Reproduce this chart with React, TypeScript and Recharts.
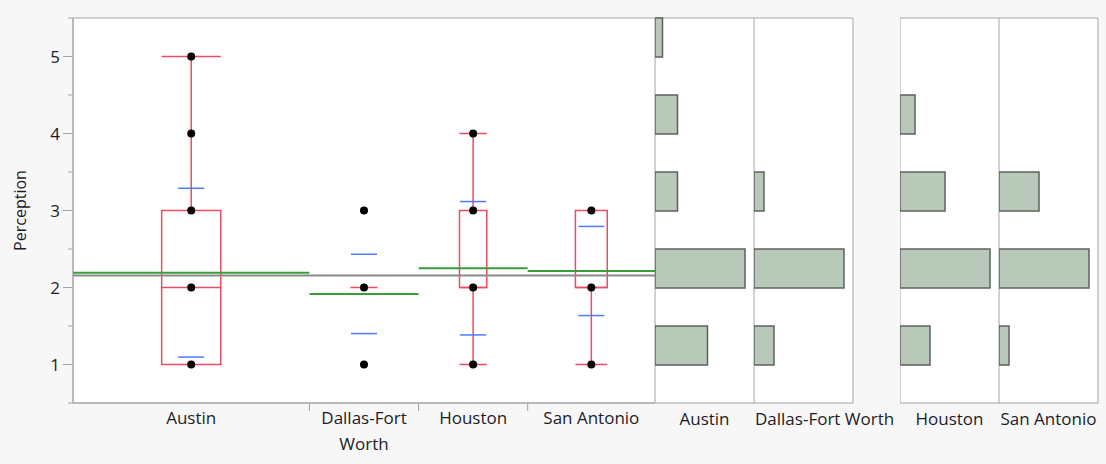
import React from 'react'
import {
  Bar,
  BarChart,
  CartesianGrid,
  ComposedChart,
  ReferenceArea,
  ReferenceLine,
  Scatter,
  Text,
  XAxis,
  YAxis,
} from 'recharts'

const regions = ['Austin', 'Dallas-Fort Worth', 'Houston', 'San Antonio']
const levels = [1, 2, 3, 4, 5]
// number of responses at each level 1..5
const austinCounts = [7, 12, 3, 3, 1]
const dallasCounts = [2, 9, 1, 0, 0]
const houstonCounts = [2, 6, 3, 1, 0]
const sanAntonioCounts = [1, 9, 4, 0, 0]
const countsByRegion = [austinCounts, dallasCounts, houstonCounts, sanAntonioCounts]
const yTicks = [0.5, 1, 1.5, 2, 2.5, 3, 3.5, 4, 4.5, 5, 5.5]

const FONT = '"Open Sans", sans-serif'
const TEXT = '#1c1c28'
const AXIS = '#a4a4a4'
const RED = '#ee4b63'
const BLUE = '#4b7bff'
const GREEN = '#3a9d3a'
const GRAY = '#8a8a8a'
const HIST_FILL = '#b9c9b9'
const HIST_STROKE = '#5d615d'
const SD_HALF = 1.43 // half length of the std dev marks, x units

function expand(counts: number[]) {
  const out: number[] = []
  counts.forEach((c, i) => {
    for (let k = 0; k < c; k++) out.push(levels[i])
  })
  return out
}

function quantile(sorted: number[], p: number) {
  const pos = p * (sorted.length + 1)
  const lo = Math.min(Math.max(Math.floor(pos), 1), sorted.length)
  const hi = Math.min(Math.max(Math.ceil(pos), 1), sorted.length)
  const a = sorted[lo - 1]
  const b = sorted[hi - 1]
  return a + (b - a) * (pos - Math.floor(pos))
}

let cursor = 0
const groups = regions.map((name, i) => {
  const values = expand(countsByRegion[i])
  const n = values.length
  const mean = values.reduce((s, v) => s + v, 0) / n
  const sd = Math.sqrt(values.reduce((s, v) => s + (v - mean) ** 2, 0) / (n - 1))
  const q1 = quantile(values, 0.25)
  const med = quantile(values, 0.5)
  const q3 = quantile(values, 0.75)
  const iqr = q3 - q1
  const lo = Math.min(...values.filter((v) => v >= q1 - 1.5 * iqr))
  const hi = Math.max(...values.filter((v) => v <= q3 + 1.5 * iqr))
  const g = { name, start: cursor, end: cursor + n, center: cursor + n / 2, n, mean, sd, q1, med, q3, lo, hi, values }
  cursor += n
  return g
})
const total = cursor
const grandMean = groups.reduce((s, g) => s + g.mean * g.n, 0) / total

const boundaries = groups.slice(1).map((g) => g.start)
const xTicks = [...groups.map((g) => g.center), ...boundaries].sort((a, b) => a - b)

const points = groups.flatMap((g) =>
  Array.from(new Set(g.values)).map((v) => ({ x: g.center, y: v })),
)

function RegionTick(props: any) {
  const { x, y, payload } = props
  if (boundaries.includes(payload.value)) {
    return <line x1={x} x2={x} y1={y} y2={y + 8} stroke={AXIS} />
  }
  const g = groups.find((gr) => gr.center === payload.value)
  return (
    <Text
      x={x}
      y={y + 9}
      width={110}
      textAnchor="middle"
      verticalAnchor="start"
      lineHeight={26}
      fill={TEXT}
      style={{ fontFamily: FONT, fontSize: 17 }}
    >
      {g ? g.name : ''}
    </Text>
  )
}

function ValueTick(props: any) {
  const { x, y, payload } = props
  const major = Number.isInteger(payload.value)
  return (
    <g>
      <line x1={x - (major ? 10 : 5)} x2={x} y1={y} y2={y} stroke={AXIS} />
      {major && (
        <text x={x - 13} y={y} dy="0.36em" textAnchor="end" fill={TEXT} style={{ fontFamily: FONT, fontSize: 17 }}>
          {payload.value}
        </text>
      )}
    </g>
  )
}

function AxisTitle(props: any) {
  const vb = props.viewBox || { x: 0, y: 18, width: 73, height: 385 }
  const cx = vb.x + 20
  const cy = vb.y + vb.height / 2
  return (
    <text
      x={cx}
      y={cy}
      textAnchor="middle"
      dominantBaseline="central"
      transform={`rotate(-90 ${cx} ${cy})`}
      fill={TEXT}
      style={{ fontFamily: FONT, fontSize: 16 }}
    >
      Perception
    </text>
  )
}

function MainPlot() {
  return (
    <ComposedChart
      width={660}
      height={464}
      margin={{ top: 18, right: 5, bottom: 0, left: 0 }}
      style={{ position: 'absolute', left: 0, top: 0 }}
    >
      <CartesianGrid horizontal={false} vertical={false} fill="#ffffff" />
      <XAxis
        type="number"
        dataKey="x"
        domain={[0, total]}
        ticks={xTicks}
        interval={0}
        height={61}
        tickLine={false}
        tickSize={0}
        tickMargin={0}
        axisLine={{ stroke: AXIS }}
        tick={(p: any) => <RegionTick {...p} />}
        allowDataOverflow
      />
      <YAxis
        type="number"
        dataKey="y"
        domain={[0.5, 5.5]}
        ticks={yTicks}
        interval={0}
        width={73}
        tickLine={false}
        tickSize={0}
        tickMargin={0}
        axisLine={{ stroke: AXIS }}
        tick={(p: any) => <ValueTick {...p} />}
        label={(p: any) => <AxisTitle {...p} />}
        allowDataOverflow
      />
      <ReferenceArea x1={0} x2={total} y1={0.5} y2={5.5} fill="none" stroke={AXIS} ifOverflow="visible" />
      <ReferenceLine y={grandMean} stroke={GRAY} strokeWidth={2} />
      {groups.map((g) => (
        <ReferenceLine
          key={`mean-${g.name}`}
          segment={[{ x: g.start, y: g.mean }, { x: g.end, y: g.mean }]}
          stroke={GREEN}
          strokeWidth={2}
        />
      ))}
      {groups.map((g) => {
        const half = g.n / 8
        const parts: React.ReactNode[] = []
        if (g.q3 > g.q1) {
          parts.push(
            <ReferenceArea key={`box-${g.name}`} x1={g.center - half} x2={g.center + half} y1={g.q1} y2={g.q3} fill="none" stroke={RED} strokeWidth={1.5} />,
          )
        }
        parts.push(
          <ReferenceLine key={`med-${g.name}`} segment={[{ x: g.center - half, y: g.med }, { x: g.center + half, y: g.med }]} stroke={RED} strokeWidth={1.5} />,
        )
        if (g.hi > g.q3) {
          parts.push(
            <ReferenceLine key={`wh-${g.name}`} segment={[{ x: g.center, y: g.q3 }, { x: g.center, y: g.hi }]} stroke={RED} strokeWidth={1.5} />,
            <ReferenceLine key={`ch-${g.name}`} segment={[{ x: g.center - half, y: g.hi }, { x: g.center + half, y: g.hi }]} stroke={RED} strokeWidth={1.5} />,
          )
        }
        if (g.lo < g.q1) {
          parts.push(
            <ReferenceLine key={`wl-${g.name}`} segment={[{ x: g.center, y: g.q1 }, { x: g.center, y: g.lo }]} stroke={RED} strokeWidth={1.5} />,
            <ReferenceLine key={`cl-${g.name}`} segment={[{ x: g.center - half, y: g.lo }, { x: g.center + half, y: g.lo }]} stroke={RED} strokeWidth={1.5} />,
          )
        }
        return parts
      })}
      {groups.flatMap((g) =>
        [g.mean + g.sd, g.mean - g.sd].map((v, k) => (
          <ReferenceLine
            key={`sd-${g.name}-${k}`}
            segment={[{ x: g.center - SD_HALF, y: v }, { x: g.center + SD_HALF, y: v }]}
            stroke={BLUE}
            strokeWidth={1.5}
          />
        )),
      )}
      <Scatter
        data={points}
        isAnimationActive={false}
        shape={(p: any) => <circle cx={p.cx} cy={p.cy} r={4} fill="#000" />}
      />
    </ComposedChart>
  )
}

const panelLefts = [655, 754, 900, 999]

function HistPanel({ index }: { index: number }) {
  const g = groups[index]
  const counts = countsByRegion[index]
  const bins: { bin: string; count: number }[] = []
  for (let i = levels.length - 1; i >= 0; i--) {
    bins.push({ bin: `${levels[i]}-${levels[i] + 0.5}`, count: counts[i] })
    bins.push({ bin: `${levels[i] - 0.5}-${levels[i]}`, count: 0 })
  }
  const xMax = Math.max(...counts) * 1.1
  const leftAligned = g.name.length > 12
  return (
    <BarChart
      layout="vertical"
      width={150}
      height={464}
      data={bins}
      margin={{ top: 18, right: 51, bottom: 0, left: 0 }}
      barCategoryGap={0}
      barGap={0}
      style={{ position: 'absolute', left: panelLefts[index], top: 0 }}
    >
      <CartesianGrid horizontal={false} vertical={false} fill="#ffffff" />
      <XAxis
        type="number"
        domain={[0, xMax]}
        ticks={[leftAligned ? 0 : xMax / 2]}
        interval={0}
        height={61}
        axisLine={false}
        tickLine={false}
        tickSize={0}
        tickMargin={0}
        allowDataOverflow
        tick={(p: any) => (
          <text
            x={p.x + (leftAligned ? 1 : 0)}
            y={p.y + 22}
            textAnchor={leftAligned ? 'start' : 'middle'}
            fill={TEXT}
            style={{ fontFamily: FONT, fontSize: 17 }}
          >
            {g.name}
          </text>
        )}
      />
      <YAxis type="category" dataKey="bin" hide />
      <Bar dataKey="count" fill={HIST_FILL} stroke={HIST_STROKE} strokeWidth={1.5} isAnimationActive={false} />
      <ReferenceArea x1={0} x2={xMax} fill="none" stroke={AXIS} ifOverflow="visible" />
    </BarChart>
  )
}

export default function App() {
  return (
    <div
      style={{
        position: 'absolute',
        left: 0,
        top: 0,
        width: 1106,
        height: 464,
        background: '#f7f7f7',
        fontFamily: FONT,
      }}
    >
      <MainPlot />
      {groups.map((g, i) => (
        <HistPanel key={g.name} index={i} />
      ))}
    </div>
  )
}
